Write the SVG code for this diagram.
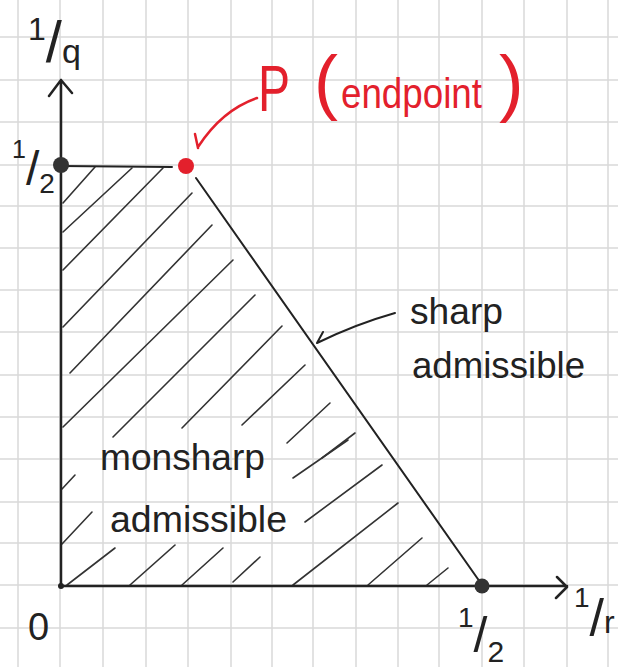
<svg xmlns="http://www.w3.org/2000/svg" width="618" height="667" viewBox="0 0 618 667">
<style>
.grid line{stroke:#d8d8d8;stroke-width:1.5}
.ax{stroke:#222;stroke-width:2.5;fill:none;stroke-linecap:round;stroke-linejoin:round}
.edge{stroke:#222;stroke-width:2;fill:none;stroke-linecap:round}
.hatch line{stroke:#333;stroke-width:1.6;stroke-linecap:round}
.t{font-family:"Liberation Sans",Arial,sans-serif;fill:#222}
.r{font-family:"Liberation Sans",Arial,sans-serif;fill:#e3202c}
</style>
<rect width="618" height="667" fill="#fff"/>
<g class="grid">
<line x1="18" y1="0" x2="18" y2="667"/><line x1="60" y1="0" x2="60" y2="667"/><line x1="103" y1="0" x2="103" y2="667"/><line x1="146" y1="0" x2="146" y2="667"/><line x1="188" y1="0" x2="188" y2="667"/><line x1="231" y1="0" x2="231" y2="667"/><line x1="272" y1="0" x2="272" y2="667"/><line x1="313" y1="0" x2="313" y2="667"/><line x1="356" y1="0" x2="356" y2="667"/><line x1="398" y1="0" x2="398" y2="667"/><line x1="439" y1="0" x2="439" y2="667"/><line x1="482" y1="0" x2="482" y2="667"/><line x1="524" y1="0" x2="524" y2="667"/><line x1="567" y1="0" x2="567" y2="667"/><line x1="608" y1="0" x2="608" y2="667"/>
<line x1="0" y1="37" x2="618" y2="37"/><line x1="0" y1="80" x2="618" y2="80"/><line x1="0" y1="122" x2="618" y2="122"/><line x1="0" y1="165" x2="618" y2="165"/><line x1="0" y1="206" x2="618" y2="206"/><line x1="0" y1="248" x2="618" y2="248"/><line x1="0" y1="290" x2="618" y2="290"/><line x1="0" y1="332" x2="618" y2="332"/><line x1="0" y1="375" x2="618" y2="375"/><line x1="0" y1="417" x2="618" y2="417"/><line x1="0" y1="459" x2="618" y2="459"/><line x1="0" y1="502" x2="618" y2="502"/><line x1="0" y1="543" x2="618" y2="543"/><line x1="0" y1="585" x2="618" y2="585"/><line x1="0" y1="628" x2="618" y2="628"/>
</g>
<g class="hatch">
<line x1="63" y1="203" x2="95" y2="167"/>
<line x1="63" y1="232" x2="132" y2="168"/>
<line x1="63" y1="270" x2="163" y2="168"/>
<line x1="63" y1="327" x2="192" y2="193"/>
<line x1="70" y1="373" x2="212" y2="225"/>
<line x1="63" y1="427" x2="233" y2="260"/>
<line x1="113" y1="437" x2="255" y2="295"/>
<line x1="182" y1="428" x2="282" y2="326"/>
<line x1="242" y1="425" x2="305" y2="365"/>
<line x1="287" y1="443" x2="330" y2="403"/>
<line x1="322" y1="458" x2="355" y2="433"/>
<line x1="62" y1="489" x2="75" y2="475"/>
<line x1="62" y1="544" x2="92" y2="512"/>
<line x1="67" y1="585" x2="115" y2="548"/>
<line x1="130" y1="585" x2="175" y2="545"/>
<line x1="182" y1="585" x2="223" y2="548"/>
<line x1="233" y1="582" x2="260" y2="557"/>
<line x1="293" y1="478" x2="348" y2="440"/>
<line x1="305" y1="522" x2="382" y2="465"/>
<line x1="293" y1="585" x2="398" y2="503"/>
<line x1="368" y1="585" x2="422" y2="538"/>
<line x1="427" y1="585" x2="448" y2="568"/>
</g>
<g id="connectors">
<path class="ax" d="M61 587 L61 80 M49 96 L61 80 L72 93"/>
<path class="ax" d="M60 586 L567 586 M557 577 L567 587 L556 598"/>
<path class="edge" d="M61 166 L172 167"/>
<path class="edge" d="M196 178 L480 582"/>
<path class="edge" d="M395 313 Q356 324 317 343 M317 343 L323 332"/>
<path d="M257 98 Q222 110 198 147 M195 134 L198 148" fill="none" stroke="#e3202c" stroke-width="2.5" stroke-linecap="round"/>
</g>
<g id="origin"><circle cx="61" cy="586" r="3" fill="#222"/><text class="t" x="28" y="640" font-size="38">0</text></g>
<g id="y-half"><circle cx="61" cy="165" r="8" fill="#333"/>
<text class="t" x="12" y="158" font-size="25">1<tspan dy="27" font-size="48">/</tspan><tspan dy="8" font-size="28">2</tspan></text></g>
<g id="x-half"><circle cx="482" cy="586" r="7.5" fill="#333"/>
<text class="t" x="458" y="627" font-size="28">1<tspan dy="25" font-size="50">/</tspan><tspan dy="10" font-size="30">2</tspan></text></g>
<g id="P"><circle cx="186" cy="166" r="8" fill="#e3202c"/>
<text class="r" x="258" y="111" font-size="64" textLength="32" lengthAdjust="spacingAndGlyphs">P</text>
<text class="r" x="314" y="106" font-size="72">(</text>
<text class="r" x="341" y="108" font-size="42" textLength="141" lengthAdjust="spacingAndGlyphs">endpoint</text>
<text class="r" x="499" y="108" font-size="74">)</text></g>
<g id="y-label"><text class="t" x="28" y="40" font-size="32">1<tspan dy="22" font-size="58">/</tspan><tspan dy="1" font-size="34">q</tspan></text></g>
<g id="x-label"><text class="t" x="574" y="607" font-size="28">1<tspan dy="29" font-size="52">/</tspan><tspan dy="-3" font-size="32">r</tspan></text></g>
<g id="sharp"><text class="t" x="410" y="324" font-size="37" textLength="93" lengthAdjust="spacingAndGlyphs">sharp</text>
<text class="t" x="412" y="378" font-size="37" textLength="173" lengthAdjust="spacingAndGlyphs">admissible</text></g>
<g id="nonsharp"><text class="t" x="100" y="470" font-size="37" textLength="165" lengthAdjust="spacingAndGlyphs">monsharp</text>
<text class="t" x="110" y="532" font-size="37" textLength="177" lengthAdjust="spacingAndGlyphs">admissible</text></g>
</svg>
